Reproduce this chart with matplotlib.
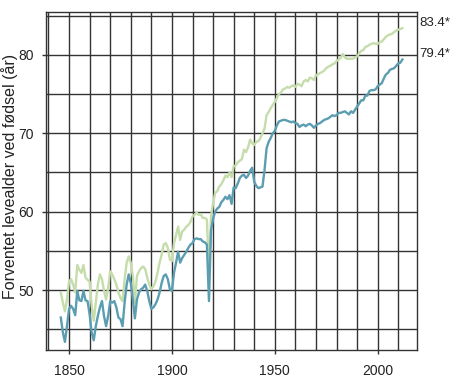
import numpy as np
import matplotlib
matplotlib.use('Agg')
import matplotlib.pyplot as plt
from matplotlib.ticker import MultipleLocator

# ── Data: life expectancy at birth, Norway ────────────────────────────────────
YEARS = list(range(1846, 2013))

MEN = [
    46.5, 44.6, 43.4, 45.4, 47.6, 48.0, 47.6, 46.8, 49.9, 48.7,   # 1846-1855
    48.6, 49.9, 48.7, 48.6, 46.9, 44.6, 43.6, 45.4, 46.7, 47.8,   # 1856-1865
    48.6, 46.7, 45.4, 46.7, 48.6, 48.4, 48.6, 47.8, 46.5, 46.3,   # 1866-1875
    45.4, 48.4, 50.7, 52.0, 50.9, 48.8, 46.4, 48.8, 49.7, 50.1,   # 1876-1885
    50.3, 50.7, 49.9, 48.6, 47.6, 47.8, 48.2, 48.8, 49.7, 50.9,   # 1886-1895
    51.8, 52.0, 51.4, 50.1, 49.9, 52.2, 53.5, 54.9, 53.5, 54.1,   # 1896-1905
    54.5, 54.9, 55.4, 55.8, 56.0, 56.5, 56.6, 56.5, 56.5, 56.2,   # 1906-1915
    56.1, 55.8, 48.6, 57.6, 59.1, 60.0, 60.4, 60.6, 61.2, 61.5,   # 1916-1925
    61.9, 61.6, 62.1, 61.0, 63.1, 63.0, 63.6, 64.3, 64.6, 64.7,   # 1926-1935
    64.3, 64.6, 65.2, 65.6, 63.8, 63.3, 63.0, 63.1, 63.2, 65.3,   # 1936-1945
    68.1, 68.9, 69.4, 70.0, 70.3, 71.0, 71.5, 71.6, 71.7, 71.7,   # 1946-1955
    71.6, 71.5, 71.4, 71.5, 71.3, 71.2, 70.8, 71.0, 71.1, 70.9,   # 1956-1965
    71.1, 71.2, 71.0, 70.7, 71.0, 71.2, 71.3, 71.5, 71.7, 71.8,   # 1966-1975
    71.9, 72.1, 72.3, 72.2, 72.3, 72.6, 72.6, 72.7, 72.8, 72.6,   # 1976-1985
    72.4, 72.8, 72.6, 73.0, 73.4, 73.8, 74.2, 74.2, 74.8, 74.8,   # 1986-1995
    75.4, 75.5, 75.5, 75.6, 76.0, 76.2, 76.4, 77.0, 77.5, 77.7,   # 1996-2005
    78.1, 78.2, 78.3, 78.6, 78.9, 79.0, 79.4,                     # 2006-2012
]

WOMEN = [
    49.7, 48.4, 47.3, 48.8, 51.1, 51.4, 50.7, 49.7, 53.2, 52.6,   # 1846-1855
    52.2, 53.2, 51.6, 51.3, 51.1, 48.0, 46.1, 48.4, 50.7, 52.0,   # 1856-1865
    51.4, 49.9, 48.8, 50.3, 52.4, 52.0, 51.4, 50.7, 49.7, 49.0,   # 1866-1875
    48.6, 51.4, 53.5, 54.3, 53.5, 51.8, 48.4, 51.8, 52.4, 52.8,   # 1876-1885
    53.0, 52.7, 51.6, 50.7, 50.1, 50.5, 51.1, 52.2, 53.5, 54.5,   # 1886-1895
    55.8, 56.0, 55.4, 53.9, 53.7, 56.0, 57.0, 58.1, 56.4, 57.5,   # 1896-1905
    57.7, 58.1, 58.3, 58.7, 59.4, 59.6, 59.9, 59.6, 59.7, 59.2,   # 1906-1915
    59.2, 59.0, 52.2, 59.4, 61.1, 62.4, 62.6, 63.2, 63.5, 64.0,   # 1916-1925
    64.6, 64.4, 65.0, 64.4, 65.8, 65.9, 66.3, 66.5, 66.7, 67.9,   # 1926-1935
    67.6, 68.2, 69.2, 68.7, 68.5, 68.9, 69.0, 69.4, 70.0, 70.6,   # 1936-1945
    72.3, 72.7, 73.2, 73.6, 74.0, 74.5, 75.0, 75.2, 75.6, 75.7,   # 1946-1955
    75.9, 75.8, 76.0, 76.1, 75.9, 76.3, 76.2, 76.0, 76.6, 76.8,   # 1956-1965
    76.6, 77.1, 77.0, 76.8, 77.4, 77.5, 77.7, 77.8, 78.0, 78.3,   # 1966-1975
    78.5, 78.6, 78.8, 78.9, 79.2, 79.4, 79.6, 80.1, 79.7, 79.5,   # 1976-1985
    79.5, 79.5, 79.5, 79.7, 79.8, 80.2, 80.5, 80.6, 81.0, 81.1,   # 1986-1995
    81.3, 81.4, 81.5, 81.4, 81.4, 81.6, 81.7, 82.0, 82.3, 82.5,   # 1996-2005
    82.6, 82.7, 82.9, 83.1, 83.2, 83.3, 83.4,                     # 2006-2012
]

END_LABELS = ['83.4*', '79.4*']
Y_LABEL = 'Forventet levealder ved fødsel (år)'

# ── Style ─────────────────────────────────────────────────────────────────────
WOMEN_COLOR = '#c5dcab'
MEN_COLOR = '#5b9db1'
GRID_COLOR = '#333333'
TEXT_COLOR = '#222222'
NARROW = ['Liberation Sans Narrow', 'Liberation Sans', 'DejaVu Sans']

plt.rcParams['font.family'] = ['Liberation Sans', 'DejaVu Sans']

fig = plt.figure(figsize=(4.5, 3.86), dpi=100)
ax = fig.add_axes([0.1022, 0.094, 0.8245, 0.8757])

ax.plot(YEARS, WOMEN, color=WOMEN_COLOR, lw=1.7, zorder=3)
ax.plot(YEARS, MEN, color=MEN_COLOR, lw=1.7, zorder=4)

ax.set_xlim(1838.8, 2019.1)
ax.set_ylim(42.4, 85.5)

ax.xaxis.set_major_locator(MultipleLocator(50))
ax.xaxis.set_minor_locator(MultipleLocator(10))
ax.yaxis.set_major_locator(MultipleLocator(10))
ax.yaxis.set_minor_locator(MultipleLocator(5))

ax.grid(True, which='both', color=GRID_COLOR, lw=1.0, zorder=1)
ax.set_axisbelow(True)
for sp in ax.spines.values():
    sp.set_color(GRID_COLOR)
    sp.set_linewidth(1.0)

ax.tick_params(which='major', length=3, width=1.0, color=GRID_COLOR,
               direction='out', labelsize=10, labelcolor=TEXT_COLOR)
ax.tick_params(axis='y', which='major', pad=6)
ax.tick_params(axis='x', which='major', pad=7)
ax.tick_params(which='minor', length=0)
for lbl in ax.get_xticklabels() + ax.get_yticklabels():
    lbl.set_family(NARROW)

fig.text(10 / 450, 1 - 176 / 386, Y_LABEL, rotation=90, ha='center',
         va='center', fontsize=11.5, color=TEXT_COLOR)

# end-of-line labels
for val, txt in zip([WOMEN[-1], MEN[-1]], END_LABELS):
    ax.annotate(txt, xy=(1.0, val), xycoords=('axes fraction', 'data'),
                xytext=(2, 4), textcoords='offset points',
                ha='left', va='center', fontsize=9.5, color=TEXT_COLOR,
                family=NARROW, annotation_clip=False)

fig.savefig('out.png', dpi=100)
